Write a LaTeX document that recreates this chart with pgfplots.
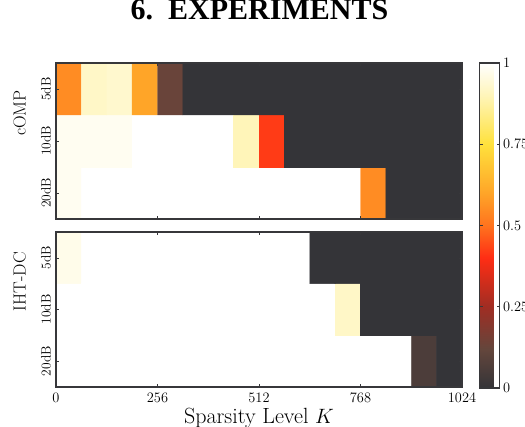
\documentclass[border=0pt]{standalone}
\usepackage{pgfplots}
\pgfplotsset{compat=1.18}
\usepackage{fontspec}
\newfontfamily\titlefont{Liberation Serif}
\definecolor{frame}{RGB}{55,55,58}
\definecolor{cellzero}{RGB}{52,52,56}
\pgfplotsset{
  colormap={expmap}{rgb255(0cm)=(52,52,56); rgb255(1.2cm)=(100,70,60); rgb255(2.5cm)=(160,45,35); rgb255(4cm)=(255,45,20); rgb255(5cm)=(255,115,30); rgb255(6cm)=(255,165,40); rgb255(7.5cm)=(255,225,60); rgb255(9cm)=(255,245,185); rgb255(10cm)=(255,255,255)},
  panel/.style={
    width=406pt, height=156pt, scale only axis,
    xmin=0, xmax=1024, ymin=-0.5, ymax=2.5,
    xtick={0,256,512,768,1024},
    xticklabels={0,256,512,768,1024},
    ytick={0,1,2}, yticklabels={20dB,10dB,5dB},
    point meta min=0, point meta max=1,
    colormap name=expmap,
    axis on top,
    axis line style={frame, line width=1.2pt},
    tick style={frame, line width=0.6pt},
    major tick length=3pt,
    yticklabel style={font=\fontsize{13.5}{14}\selectfont, rotate=90, anchor=south, inner ysep=5pt},
    xticklabel style={font=\fontsize{14.4}{15}\selectfont},
    ylabel style={font=\fontsize{17.5}{18}\selectfont, at={(axis description cs:0,0.68)}, anchor=south, inner ysep=0pt, yshift=30pt},
  },
  heatcells/.style={matrix plot*, mesh/cols=16, point meta=explicit},
  zeroregion/.style={fill=cellzero, draw=none, forget plot, mesh/check=false}
}
\begin{document}
\begin{tikzpicture}[x=1pt,y=1pt]
\useasboundingbox (0,0) rectangle (525,426);
\clip (0,0) rectangle (525,426);
\node[anchor=base, font=\titlefont\bfseries\fontsize{30}{30}\selectfont] at (259.5,406.5) {6.\ \ EXPERIMENTS};
% cOMP
\begin{axis}[panel, at={(56pt,207pt)}, anchor=south west,
  xticklabels={}, ylabel={cOMP},
  colorbar,
  colorbar style={at={(parent axis.north east)}, anchor=north west, xshift=9pt,
    width=20pt, height=325pt, scale only axis,
    ytick={0,0.25,0.5,0.75,1}, yticklabels={0,0.25,0.5,0.75,1},
    yticklabel style={font=\fontsize{14.4}{15}\selectfont},
    axis line style={frame, line width=1.2pt},
    tick style={frame, line width=0.6pt}, major tick length=3pt}]
% the value-0 cells as one region underneath (hides seams)
\addplot[zeroregion] coordinates {(320,2.5) (1024,2.5) (1024,-0.5) (832,-0.5) (832,0.5) (576,0.5) (576,1.5) (320,1.5)} --cycle;
\addplot[heatcells] table[meta=c] {
x y c
32 0 0.98
96 0 1
160 0 1
224 0 1
288 0 1
352 0 1
416 0 1
480 0 1
544 0 1
608 0 1
672 0 1
736 0 1
800 0 0.55
864 0 0
928 0 0
992 0 0
32 1 0.98
96 1 0.98
160 1 0.98
224 1 1
288 1 1
352 1 1
416 1 1
480 1 0.9
544 1 0.42
608 1 0
672 1 0
736 1 0
800 1 0
864 1 0
928 1 0
992 1 0
32 2 0.55
96 2 0.92
160 2 0.93
224 2 0.6
288 2 0.13
352 2 0
416 2 0
480 2 0
544 2 0
608 2 0
672 2 0
736 2 0
800 2 0
864 2 0
928 2 0
992 2 0
};
\end{axis}
% IHT-DC
\begin{axis}[panel, at={(56pt,39pt)}, anchor=south west, height=155pt,
  ylabel={IHT-DC},
  xlabel={Sparsity Level $K$},
  xlabel style={font=\fontsize{22}{23}\selectfont, at={(axis description cs:0.5,0)}, anchor=base, yshift=-36pt},
  xticklabel style={anchor=base, yshift=-15pt}]
\addplot[zeroregion] coordinates {(640,2.5) (1024,2.5) (1024,-0.5) (960,-0.5) (960,0.5) (768,0.5) (768,1.5) (640,1.5)} --cycle;
\addplot[heatcells] table[meta=c] {
x y c
32 0 1
96 0 1
160 0 1
224 0 1
288 0 1
352 0 1
416 0 1
480 0 1
544 0 1
608 0 1
672 0 1
736 0 1
800 0 1
864 0 1
928 0 0.06
992 0 0
32 1 1
96 1 1
160 1 1
224 1 1
288 1 1
352 1 1
416 1 1
480 1 1
544 1 1
608 1 1
672 1 1
736 1 0.92
800 1 0
864 1 0
928 1 0
992 1 0
32 2 0.97
96 2 1
160 2 1
224 2 1
288 2 1
352 2 1
416 2 1
480 2 1
544 2 1
608 2 1
672 2 0
736 2 0
800 2 0
864 2 0
928 2 0
992 2 0
};
\end{axis}
\end{tikzpicture}
\end{document}
